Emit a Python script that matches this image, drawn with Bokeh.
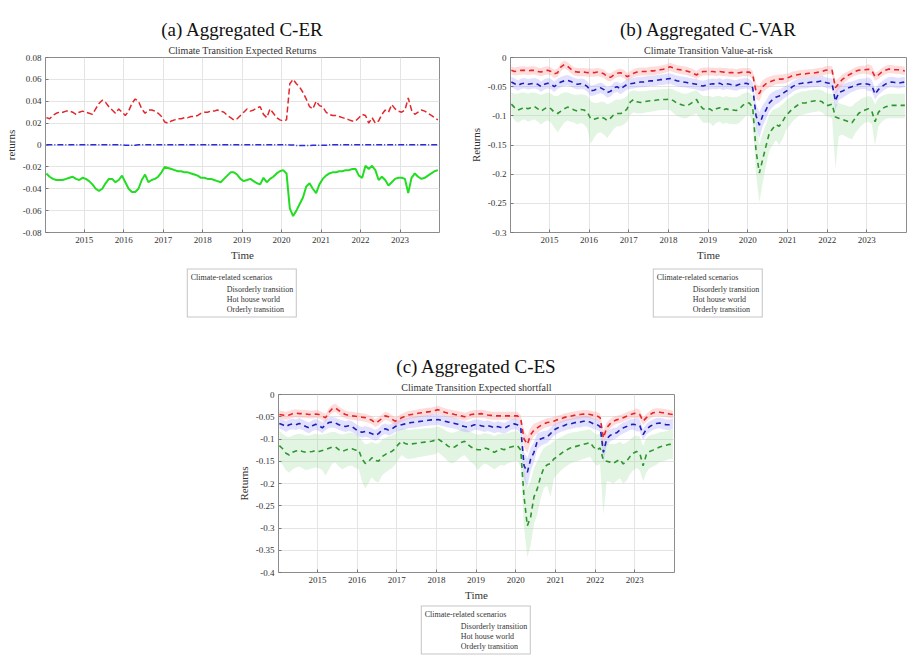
from bokeh.plotting import figure
from bokeh.models import (Range1d, FixedTicker, CustomJSTickFormatter, Legend,
                          LegendItem, Title)
from bokeh.embed import file_html
from bokeh.resources import INLINE

# ---------------- data (monthly, Jan 2014 .. Dec 2023) ----------------
months = [2014 + (i + 0.5) / 12 for i in range(120)]
year_ticks = [2015, 2016, 2017, 2018, 2019, 2020, 2021, 2022, 2023]
scenarios = ["Disorderly transition", "Hot house world", "Orderly transition"]

# (a) Climate Transition Expected Returns
er_disorderly = [
    -0.026, -0.029, -0.031, -0.032, -0.032, -0.032, -0.031, -0.030, -0.029, -0.031, -0.032, -0.030,
    -0.031, -0.033, -0.036, -0.040, -0.042, -0.040, -0.035, -0.031, -0.031, -0.034, -0.032, -0.028,
    -0.034, -0.040, -0.043, -0.043, -0.040, -0.032, -0.027, -0.034, -0.032, -0.031, -0.029, -0.025,
    -0.020, -0.021, -0.022, -0.023, -0.024, -0.024, -0.025, -0.025, -0.026, -0.027, -0.028, -0.030,
    -0.030, -0.031, -0.031, -0.032, -0.033, -0.034, -0.031, -0.028, -0.025, -0.025, -0.027, -0.031,
    -0.033, -0.032, -0.031, -0.033, -0.035, -0.036, -0.030, -0.034, -0.031, -0.029, -0.026, -0.024,
    -0.023, -0.026, -0.058, -0.065, -0.060, -0.054, -0.048, -0.038, -0.035, -0.040, -0.044, -0.036,
    -0.031, -0.028, -0.026, -0.025, -0.025, -0.024, -0.024, -0.023, -0.023, -0.022, -0.022, -0.028,
    -0.030, -0.019, -0.022, -0.019, -0.023, -0.032, -0.029, -0.032, -0.037, -0.034, -0.031, -0.030,
    -0.030, -0.031, -0.044, -0.030, -0.026, -0.029, -0.031, -0.030, -0.028, -0.026, -0.024, -0.023]
er_hothouse = [
    0.025, 0.024, 0.027, 0.029, 0.030, 0.030, 0.031, 0.031, 0.030, 0.028, 0.030, 0.031,
    0.030, 0.029, 0.028, 0.033, 0.038, 0.041, 0.039, 0.035, 0.032, 0.029, 0.033, 0.030,
    0.027, 0.031, 0.038, 0.042, 0.040, 0.033, 0.029, 0.032, 0.032, 0.031, 0.029, 0.026,
    0.021, 0.020, 0.022, 0.023, 0.024, 0.024, 0.025, 0.025, 0.026, 0.026, 0.027, 0.029,
    0.030, 0.030, 0.031, 0.031, 0.032, 0.031, 0.030, 0.027, 0.025, 0.023, 0.024, 0.027,
    0.030, 0.033, 0.031, 0.032, 0.034, 0.035, 0.028, 0.025, 0.033, 0.029, 0.025, 0.023,
    0.022, 0.023, 0.056, 0.060, 0.056, 0.053, 0.048, 0.042, 0.035, 0.033, 0.040, 0.036,
    0.035, 0.030, 0.028, 0.027, 0.027, 0.026, 0.025, 0.024, 0.023, 0.022, 0.022, 0.025,
    0.028, 0.027, 0.020, 0.025, 0.020, 0.022, 0.028, 0.032, 0.030, 0.037, 0.033, 0.031,
    0.030, 0.032, 0.043, 0.032, 0.028, 0.030, 0.032, 0.031, 0.029, 0.027, 0.025, 0.023]
er_orderly = [0.0002] * 24 + [-0.0003, -0.0003, -0.0003, -0.0002] + [0.0002] * 46 + [
    0.0001, 0.0001, -0.0004, -0.0005, -0.0004, -0.0004, -0.0004, -0.0003, -0.0003, -0.0003,
    -0.0003, -0.0003] + [0.0002] * 36

# (b) Climate Transition Value-at-risk
var_disorderly = [
    -0.080, -0.086, -0.090, -0.088, -0.085, -0.088, -0.086, -0.084, -0.088, -0.092, -0.088, -0.085,
    -0.088, -0.094, -0.096, -0.092, -0.088, -0.085, -0.087, -0.090, -0.092, -0.089, -0.090, -0.094,
    -0.105, -0.106, -0.104, -0.102, -0.104, -0.108, -0.104, -0.098, -0.096, -0.096, -0.094, -0.088,
    -0.076, -0.072, -0.076, -0.077, -0.076, -0.075, -0.074, -0.074, -0.073, -0.072, -0.072, -0.072,
    -0.071, -0.074, -0.078, -0.080, -0.082, -0.083, -0.080, -0.076, -0.072, -0.082, -0.088, -0.090,
    -0.088, -0.092, -0.088, -0.086, -0.090, -0.088, -0.090, -0.090, -0.091, -0.088, -0.082, -0.078,
    -0.078, -0.086, -0.160, -0.198, -0.175, -0.152, -0.130, -0.122, -0.115, -0.118, -0.110, -0.100,
    -0.094, -0.088, -0.084, -0.080, -0.078, -0.078, -0.076, -0.075, -0.074, -0.074, -0.076, -0.082,
    -0.082, -0.080, -0.102, -0.104, -0.106, -0.108, -0.110, -0.112, -0.104, -0.096, -0.092, -0.090,
    -0.088, -0.092, -0.110, -0.094, -0.088, -0.085, -0.083, -0.082, -0.082, -0.082, -0.082, -0.082]
var_disorderly_hi = [
    -0.060, -0.062, -0.062, -0.060, -0.060, -0.062, -0.060, -0.060, -0.062, -0.064, -0.062, -0.060,
    -0.062, -0.066, -0.066, -0.062, -0.060, -0.060, -0.062, -0.064, -0.064, -0.063, -0.064, -0.066,
    -0.075, -0.078, -0.078, -0.076, -0.076, -0.080, -0.078, -0.074, -0.072, -0.072, -0.070, -0.066,
    -0.058, -0.056, -0.058, -0.058, -0.058, -0.057, -0.056, -0.056, -0.055, -0.055, -0.054, -0.054,
    -0.053, -0.055, -0.058, -0.060, -0.062, -0.062, -0.060, -0.058, -0.056, -0.062, -0.066, -0.066,
    -0.066, -0.068, -0.066, -0.066, -0.068, -0.066, -0.068, -0.068, -0.068, -0.066, -0.062, -0.060,
    -0.060, -0.066, -0.110, -0.150, -0.130, -0.115, -0.098, -0.090, -0.088, -0.085, -0.080, -0.074,
    -0.070, -0.066, -0.062, -0.060, -0.058, -0.058, -0.056, -0.056, -0.055, -0.055, -0.056, -0.060,
    -0.062, -0.062, -0.080, -0.078, -0.080, -0.082, -0.084, -0.084, -0.078, -0.074, -0.070, -0.068,
    -0.066, -0.068, -0.080, -0.070, -0.066, -0.064, -0.062, -0.062, -0.062, -0.062, -0.062, -0.062]
var_disorderly_lo = [
    -0.100, -0.108, -0.112, -0.108, -0.106, -0.110, -0.108, -0.106, -0.110, -0.115, -0.110, -0.108,
    -0.112, -0.120, -0.128, -0.120, -0.112, -0.108, -0.110, -0.112, -0.115, -0.112, -0.115, -0.122,
    -0.148, -0.138, -0.130, -0.128, -0.132, -0.138, -0.130, -0.122, -0.118, -0.118, -0.115, -0.110,
    -0.098, -0.094, -0.096, -0.096, -0.095, -0.094, -0.093, -0.092, -0.091, -0.090, -0.090, -0.090,
    -0.090, -0.095, -0.100, -0.102, -0.104, -0.104, -0.100, -0.098, -0.096, -0.105, -0.112, -0.112,
    -0.112, -0.118, -0.112, -0.110, -0.114, -0.112, -0.114, -0.114, -0.115, -0.112, -0.106, -0.100,
    -0.100, -0.110, -0.200, -0.248, -0.215, -0.185, -0.160, -0.150, -0.142, -0.150, -0.140, -0.125,
    -0.118, -0.110, -0.104, -0.100, -0.098, -0.097, -0.095, -0.094, -0.093, -0.092, -0.094, -0.100,
    -0.102, -0.104, -0.190, -0.135, -0.132, -0.135, -0.138, -0.140, -0.130, -0.122, -0.116, -0.112,
    -0.110, -0.114, -0.150, -0.118, -0.110, -0.106, -0.104, -0.104, -0.104, -0.104, -0.104, -0.104]
var_hothouse = [
    -0.022, -0.024, -0.023, -0.022, -0.022, -0.023, -0.022, -0.022, -0.024, -0.025, -0.023, -0.022,
    -0.024, -0.028, -0.026, -0.016, -0.012, -0.015, -0.020, -0.024, -0.025, -0.025, -0.025, -0.026,
    -0.026, -0.026, -0.025, -0.026, -0.028, -0.033, -0.034, -0.030, -0.027, -0.026, -0.028, -0.033,
    -0.030, -0.027, -0.025, -0.024, -0.024, -0.024, -0.023, -0.023, -0.022, -0.021, -0.020, -0.018,
    -0.016, -0.018, -0.020, -0.021, -0.022, -0.023, -0.025, -0.027, -0.030, -0.026, -0.024, -0.024,
    -0.024, -0.024, -0.025, -0.024, -0.025, -0.025, -0.026, -0.026, -0.027, -0.026, -0.025, -0.025,
    -0.025, -0.030, -0.058, -0.062, -0.050, -0.045, -0.042, -0.040, -0.038, -0.037, -0.037, -0.036,
    -0.034, -0.031, -0.030, -0.029, -0.028, -0.028, -0.027, -0.027, -0.026, -0.025, -0.024, -0.022,
    -0.021, -0.022, -0.052, -0.045, -0.038, -0.034, -0.030, -0.027, -0.024, -0.022, -0.021, -0.021,
    -0.020, -0.022, -0.033, -0.030, -0.025, -0.022, -0.020, -0.020, -0.021, -0.021, -0.022, -0.023]
var_hothouse_spread = [0.007] * 74 + [
    0.013, 0.013, 0.011, 0.010, 0.009, 0.009, 0.008, 0.008, 0.008, 0.008] + [0.007] * 14 + [
    0.012, 0.010, 0.009, 0.008] + [0.007] * 6 + [0.009, 0.008] + [0.007] * 10
var_orderly = [
    -0.042, -0.045, -0.048, -0.045, -0.044, -0.046, -0.045, -0.044, -0.046, -0.050, -0.046, -0.044,
    -0.046, -0.050, -0.045, -0.042, -0.040, -0.039, -0.041, -0.044, -0.046, -0.045, -0.046, -0.050,
    -0.057, -0.056, -0.054, -0.052, -0.055, -0.060, -0.058, -0.052, -0.050, -0.054, -0.050, -0.046,
    -0.045, -0.044, -0.043, -0.042, -0.042, -0.041, -0.040, -0.040, -0.039, -0.038, -0.038, -0.037,
    -0.036, -0.038, -0.040, -0.041, -0.042, -0.043, -0.044, -0.045, -0.046, -0.048, -0.049, -0.047,
    -0.046, -0.045, -0.046, -0.044, -0.047, -0.045, -0.046, -0.047, -0.048, -0.046, -0.045, -0.044,
    -0.046, -0.052, -0.100, -0.116, -0.100, -0.090, -0.078, -0.072, -0.068, -0.066, -0.062, -0.058,
    -0.055, -0.050, -0.047, -0.045, -0.044, -0.044, -0.043, -0.042, -0.042, -0.041, -0.040, -0.043,
    -0.044, -0.045, -0.075, -0.060, -0.058, -0.055, -0.052, -0.050, -0.048, -0.046, -0.045, -0.045,
    -0.046, -0.048, -0.063, -0.055, -0.050, -0.046, -0.043, -0.042, -0.043, -0.044, -0.043, -0.042]
var_orderly_spread = [0.009] * 74 + [
    0.020, 0.022, 0.018, 0.016, 0.014, 0.013, 0.012, 0.011, 0.010, 0.010] + [0.009] * 14 + [
    0.016, 0.013, 0.012, 0.011, 0.010] + [0.009] * 5 + [0.012, 0.010] + [0.009] * 10

# (c) Climate Transition Expected shortfall
es_disorderly = [
    -0.115, -0.122, -0.132, -0.136, -0.130, -0.127, -0.125, -0.128, -0.130, -0.129, -0.128, -0.126,
    -0.128, -0.126, -0.124, -0.121, -0.118, -0.118, -0.124, -0.128, -0.125, -0.122, -0.122, -0.125,
    -0.125, -0.145, -0.155, -0.150, -0.142, -0.148, -0.150, -0.140, -0.135, -0.130, -0.128, -0.122,
    -0.112, -0.105, -0.110, -0.112, -0.111, -0.110, -0.109, -0.108, -0.107, -0.106, -0.105, -0.103,
    -0.100, -0.105, -0.110, -0.116, -0.120, -0.118, -0.113, -0.108, -0.105, -0.112, -0.118, -0.122,
    -0.124, -0.124, -0.120, -0.122, -0.126, -0.130, -0.126, -0.122, -0.124, -0.120, -0.118, -0.116,
    -0.115, -0.125, -0.230, -0.295, -0.275, -0.230, -0.212, -0.185, -0.165, -0.158, -0.155, -0.145,
    -0.140, -0.134, -0.128, -0.124, -0.120, -0.118, -0.116, -0.114, -0.112, -0.110, -0.108, -0.118,
    -0.125, -0.120, -0.148, -0.150, -0.152, -0.155, -0.150, -0.146, -0.156, -0.150, -0.140, -0.132,
    -0.128, -0.132, -0.160, -0.135, -0.128, -0.125, -0.122, -0.118, -0.116, -0.114, -0.112, -0.112]
es_disorderly_hi = [
    -0.082, -0.088, -0.094, -0.096, -0.092, -0.090, -0.088, -0.090, -0.092, -0.092, -0.090, -0.088,
    -0.090, -0.090, -0.088, -0.086, -0.084, -0.084, -0.088, -0.090, -0.088, -0.086, -0.086, -0.090,
    -0.092, -0.104, -0.112, -0.110, -0.106, -0.110, -0.110, -0.102, -0.098, -0.094, -0.092, -0.088,
    -0.080, -0.076, -0.078, -0.080, -0.079, -0.078, -0.078, -0.077, -0.076, -0.076, -0.075, -0.074,
    -0.072, -0.076, -0.080, -0.084, -0.086, -0.085, -0.082, -0.078, -0.076, -0.080, -0.085, -0.088,
    -0.090, -0.090, -0.087, -0.088, -0.090, -0.093, -0.090, -0.088, -0.089, -0.087, -0.085, -0.083,
    -0.082, -0.090, -0.165, -0.210, -0.195, -0.165, -0.150, -0.132, -0.120, -0.115, -0.112, -0.105,
    -0.100, -0.096, -0.092, -0.089, -0.086, -0.085, -0.084, -0.082, -0.081, -0.080, -0.078, -0.085,
    -0.090, -0.088, -0.108, -0.110, -0.111, -0.112, -0.110, -0.106, -0.112, -0.108, -0.102, -0.095,
    -0.092, -0.095, -0.116, -0.098, -0.092, -0.090, -0.088, -0.085, -0.084, -0.082, -0.080, -0.080]
es_disorderly_lo = [
    -0.150, -0.158, -0.170, -0.176, -0.168, -0.164, -0.162, -0.166, -0.170, -0.168, -0.166, -0.164,
    -0.166, -0.170, -0.182, -0.168, -0.155, -0.153, -0.162, -0.168, -0.164, -0.160, -0.160, -0.165,
    -0.168, -0.195, -0.212, -0.198, -0.186, -0.195, -0.198, -0.182, -0.176, -0.170, -0.166, -0.158,
    -0.146, -0.136, -0.142, -0.145, -0.144, -0.143, -0.141, -0.140, -0.138, -0.137, -0.136, -0.134,
    -0.130, -0.136, -0.142, -0.150, -0.155, -0.152, -0.146, -0.140, -0.136, -0.145, -0.152, -0.158,
    -0.170, -0.162, -0.155, -0.158, -0.163, -0.168, -0.163, -0.158, -0.160, -0.155, -0.152, -0.150,
    -0.150, -0.162, -0.300, -0.365, -0.340, -0.290, -0.270, -0.235, -0.210, -0.205, -0.230, -0.188,
    -0.180, -0.172, -0.165, -0.160, -0.155, -0.152, -0.150, -0.147, -0.145, -0.142, -0.140, -0.152,
    -0.160, -0.156, -0.270, -0.195, -0.196, -0.200, -0.194, -0.188, -0.200, -0.194, -0.180, -0.170,
    -0.165, -0.170, -0.195, -0.175, -0.165, -0.162, -0.158, -0.152, -0.150, -0.148, -0.145, -0.145]
es_hothouse = [
    -0.045, -0.046, -0.048, -0.046, -0.043, -0.042, -0.043, -0.043, -0.044, -0.045, -0.045, -0.044,
    -0.045, -0.049, -0.052, -0.040, -0.032, -0.030, -0.036, -0.041, -0.045, -0.047, -0.048, -0.049,
    -0.050, -0.051, -0.052, -0.055, -0.058, -0.064, -0.060, -0.054, -0.048, -0.050, -0.055, -0.060,
    -0.057, -0.052, -0.049, -0.046, -0.045, -0.044, -0.042, -0.041, -0.040, -0.039, -0.038, -0.036,
    -0.034, -0.037, -0.040, -0.042, -0.043, -0.045, -0.046, -0.048, -0.050, -0.048, -0.045, -0.044,
    -0.044, -0.043, -0.044, -0.046, -0.047, -0.048, -0.048, -0.048, -0.048, -0.048, -0.048, -0.048,
    -0.048, -0.055, -0.100, -0.112, -0.090, -0.080, -0.075, -0.070, -0.066, -0.063, -0.062, -0.060,
    -0.057, -0.055, -0.052, -0.050, -0.049, -0.047, -0.046, -0.045, -0.044, -0.044, -0.045, -0.047,
    -0.048, -0.052, -0.098, -0.075, -0.066, -0.060, -0.057, -0.055, -0.052, -0.049, -0.046, -0.043,
    -0.042, -0.045, -0.060, -0.052, -0.046, -0.041, -0.040, -0.040, -0.041, -0.042, -0.044, -0.045]
es_hothouse_spread = [0.009] * 74 + [
    0.018, 0.020, 0.016, 0.014, 0.012, 0.011, 0.010, 0.010, 0.010, 0.010] + [0.009] * 14 + [
    0.016, 0.012, 0.011, 0.010] + [0.009] * 6 + [0.011, 0.010] + [0.009] * 10
es_orderly = [
    -0.065, -0.068, -0.072, -0.068, -0.066, -0.068, -0.065, -0.068, -0.072, -0.075, -0.070, -0.067,
    -0.070, -0.075, -0.068, -0.063, -0.062, -0.064, -0.068, -0.070, -0.072, -0.070, -0.072, -0.078,
    -0.082, -0.085, -0.083, -0.085, -0.088, -0.092, -0.088, -0.080, -0.077, -0.080, -0.078, -0.072,
    -0.070, -0.068, -0.066, -0.064, -0.063, -0.062, -0.061, -0.060, -0.059, -0.058, -0.057, -0.057,
    -0.056, -0.058, -0.060, -0.062, -0.063, -0.065, -0.067, -0.070, -0.072, -0.073, -0.071, -0.068,
    -0.068, -0.070, -0.072, -0.070, -0.072, -0.075, -0.072, -0.074, -0.076, -0.072, -0.068, -0.066,
    -0.068, -0.075, -0.160, -0.175, -0.145, -0.130, -0.105, -0.100, -0.097, -0.095, -0.088, -0.080,
    -0.076, -0.072, -0.070, -0.067, -0.066, -0.064, -0.062, -0.062, -0.060, -0.060, -0.062, -0.066,
    -0.067, -0.072, -0.130, -0.100, -0.092, -0.088, -0.086, -0.080, -0.075, -0.072, -0.068, -0.067,
    -0.068, -0.070, -0.090, -0.078, -0.072, -0.068, -0.065, -0.064, -0.066, -0.068, -0.068, -0.066]
es_orderly_spread = [0.012] * 74 + [
    0.030, 0.032, 0.026, 0.022, 0.018, 0.016, 0.015, 0.014, 0.013, 0.013] + [0.012] * 14 + [
    0.022, 0.016, 0.014, 0.013] + [0.012] * 6 + [0.015, 0.013] + [0.012] * 10

# ---------------- styling ----------------
SERIF = "Liberation Serif"
GREEN_A, RED, BLUE_A = "#22dd22", "#e3262b", "#2b2bd8"
GREEN, BLUE = "#2f962f", "#1f1fb4"
HAS_STANDOFF = "standoff" in Title.properties()
STYLE_A = [dict(line_color=GREEN_A, line_width=2),
           dict(line_color=RED, line_width=1.5, line_dash="6 3"),
           dict(line_color=BLUE_A, line_width=1.5, line_dash="6 2 1 2")]
STYLE_RISK = [dict(line_color=GREEN, line_width=1.6, line_dash="5 4"),
              dict(line_color=RED, line_width=1.6, line_dash="5 4"),
              dict(line_color=BLUE, line_width=1.6, line_dash="5 4")]


def base_figure(width, height, left_px, top_px, borders, yrange, yticks, ylabel,
                subtitle, bigtitle):
    left, right, top, bottom = borders
    p = figure(width=width, height=height, output_backend="svg", toolbar_location=None,
               x_range=Range1d(2014.02, 2024.0), y_range=Range1d(*yrange),
               min_border_left=left, min_border_right=right,
               min_border_top=top, min_border_bottom=bottom, sizing_mode="fixed")
    p.styles = {"position": "absolute", "left": f"{left_px}px", "top": f"{top_px}px"}
    p.title.text = bigtitle
    p.title.align = "center"
    p.title.text_font = SERIF
    p.title.text_font_size = "19px"
    p.title.text_font_style = "normal"
    p.title.text_color = "#111111"
    if HAS_STANDOFF:
        p.title.standoff = 4
    sub = Title(text=subtitle, align="center", text_font=SERIF, text_font_size="10px",
                text_font_style="normal", text_color="#333333")
    if HAS_STANDOFF:
        sub.standoff = 3
    p.add_layout(sub, "above")
    p.outline_line_color = "#8c8c8c"
    p.background_fill_color = "white"
    p.border_fill_color = "white"
    p.grid.grid_line_color = "#e4e4e4"
    p.xaxis.ticker = FixedTicker(ticks=year_ticks)
    p.yaxis.ticker = FixedTicker(ticks=yticks)
    p.yaxis.formatter = CustomJSTickFormatter(
        code="return (Math.round(tick*1000)/1000).toString();")
    for ax in (p.xaxis[0], p.yaxis[0]):
        ax.axis_line_color = None
        ax.major_tick_in = 3
        ax.major_tick_out = 0
        ax.minor_tick_line_color = None
        ax.major_tick_line_color = "#777777"
        ax.major_label_text_font = SERIF
        ax.major_label_text_font_size = "9px"
        ax.major_label_text_color = "#333333"
        ax.axis_label_text_font = SERIF
        ax.axis_label_text_font_size = "11px"
        ax.axis_label_text_font_style = "normal"
        ax.axis_label_text_color = "#333333"
        ax.major_label_standoff = 4
        ax.axis_label_standoff = 3
    p.xaxis.axis_label = "Time"
    p.yaxis.axis_label = ylabel
    return p


def legend_figure(styles, left_px, top_px, width=140, height=56):
    """Small stand-alone figure that only carries the scenario legend."""
    lp = figure(width=width, height=height, output_backend="svg", toolbar_location=None,
                x_axis_location=None, y_axis_location=None,
                min_border_left=0, min_border_right=0, min_border_top=0,
                min_border_bottom=0, sizing_mode="fixed")
    lp.styles = {"position": "absolute", "left": f"{left_px}px", "top": f"{top_px}px"}
    lp.grid.visible = False
    lp.outline_line_color = None
    lp.background_fill_alpha = 0
    lp.border_fill_alpha = 0
    rends = [lp.line([], [], **st) for st in styles]
    items = [LegendItem(label=lab, renderers=[r]) for lab, r in zip(scenarios, rends)]
    leg = Legend(items=items, title="Climate-related scenarios", location="center",
                 orientation="vertical")
    leg.title_text_font = SERIF
    leg.title_text_font_size = "8px"
    leg.title_text_font_style = "normal"
    leg.title_text_color = "#333333"
    leg.title_standoff = 2
    leg.label_text_font = SERIF
    leg.label_text_font_size = "8px"
    leg.label_text_color = "#333333"
    leg.label_height = 10
    leg.glyph_height = 10
    leg.glyph_width = 32
    leg.label_standoff = 4
    leg.spacing = 0
    leg.padding = 3
    leg.margin = 0
    leg.border_line_color = "#8c8c8c"
    leg.background_fill_color = "white"
    lp.add_layout(leg)
    return lp


# (a)
pa = base_figure(454, 330, 0, 0, (45, 15, 57, 98), (-0.08, 0.08),
                 [-0.08, -0.06, -0.04, -0.02, 0, 0.02, 0.04, 0.06, 0.08],
                 "returns", "Climate Transition Expected Returns", "(a) Aggregated C-ER")
pa.line(months, er_disorderly, **STYLE_A[0])
pa.line(months, er_hothouse, **STYLE_A[1])
pa.line(months, er_orderly, **STYLE_A[2])


def risk_panel(p, dis, dis_lo, dis_hi, hot, hot_sp, ordl, ord_sp):
    p.varea(months, y1=dis_lo, y2=dis_hi, fill_color="#9fdc9f", fill_alpha=0.3)
    p.varea(months, y1=[m - s for m, s in zip(ordl, ord_sp)],
            y2=[m + s for m, s in zip(ordl, ord_sp)], fill_color="#9a9aff", fill_alpha=0.3)
    p.varea(months, y1=[m - s for m, s in zip(hot, hot_sp)],
            y2=[m + s for m, s in zip(hot, hot_sp)], fill_color="#ff9a9a", fill_alpha=0.35)
    p.line(months, dis, **STYLE_RISK[0])
    p.line(months, hot, **STYLE_RISK[1])
    p.line(months, ordl, **STYLE_RISK[2])


# (b)
pb = base_figure(454, 330, 454, 0, (56, 2, 57, 98), (-0.3, 0.0),
                 [-0.3, -0.25, -0.2, -0.15, -0.1, -0.05, 0],
                 "Returns", "Climate Transition Value-at-risk", "(b) Aggregated C-VAR")
risk_panel(pb, var_disorderly, var_disorderly_lo, var_disorderly_hi,
           var_hothouse, var_hothouse_spread, var_orderly, var_orderly_spread)

# (c)
pc = base_figure(450, 328, 230, 330, (48, 6, 64, 86), (-0.4, 0.0),
                 [-0.4, -0.35, -0.3, -0.25, -0.2, -0.15, -0.1, -0.05, 0],
                 "Returns", "Climate Transition Expected shortfall", "(c) Aggregated C-ES")
risk_panel(pc, es_disorderly, es_disorderly_lo, es_disorderly_hi,
           es_hothouse, es_hothouse_spread, es_orderly, es_orderly_spread)

# legends below each panel
la = legend_figure(STYLE_A, 172, 265)
lb = legend_figure(STYLE_RISK, 638, 265)
lc = legend_figure(STYLE_RISK, 406, 602)

open("out.html", "w").write(file_html([pa, pb, pc, la, lb, lc], INLINE))
